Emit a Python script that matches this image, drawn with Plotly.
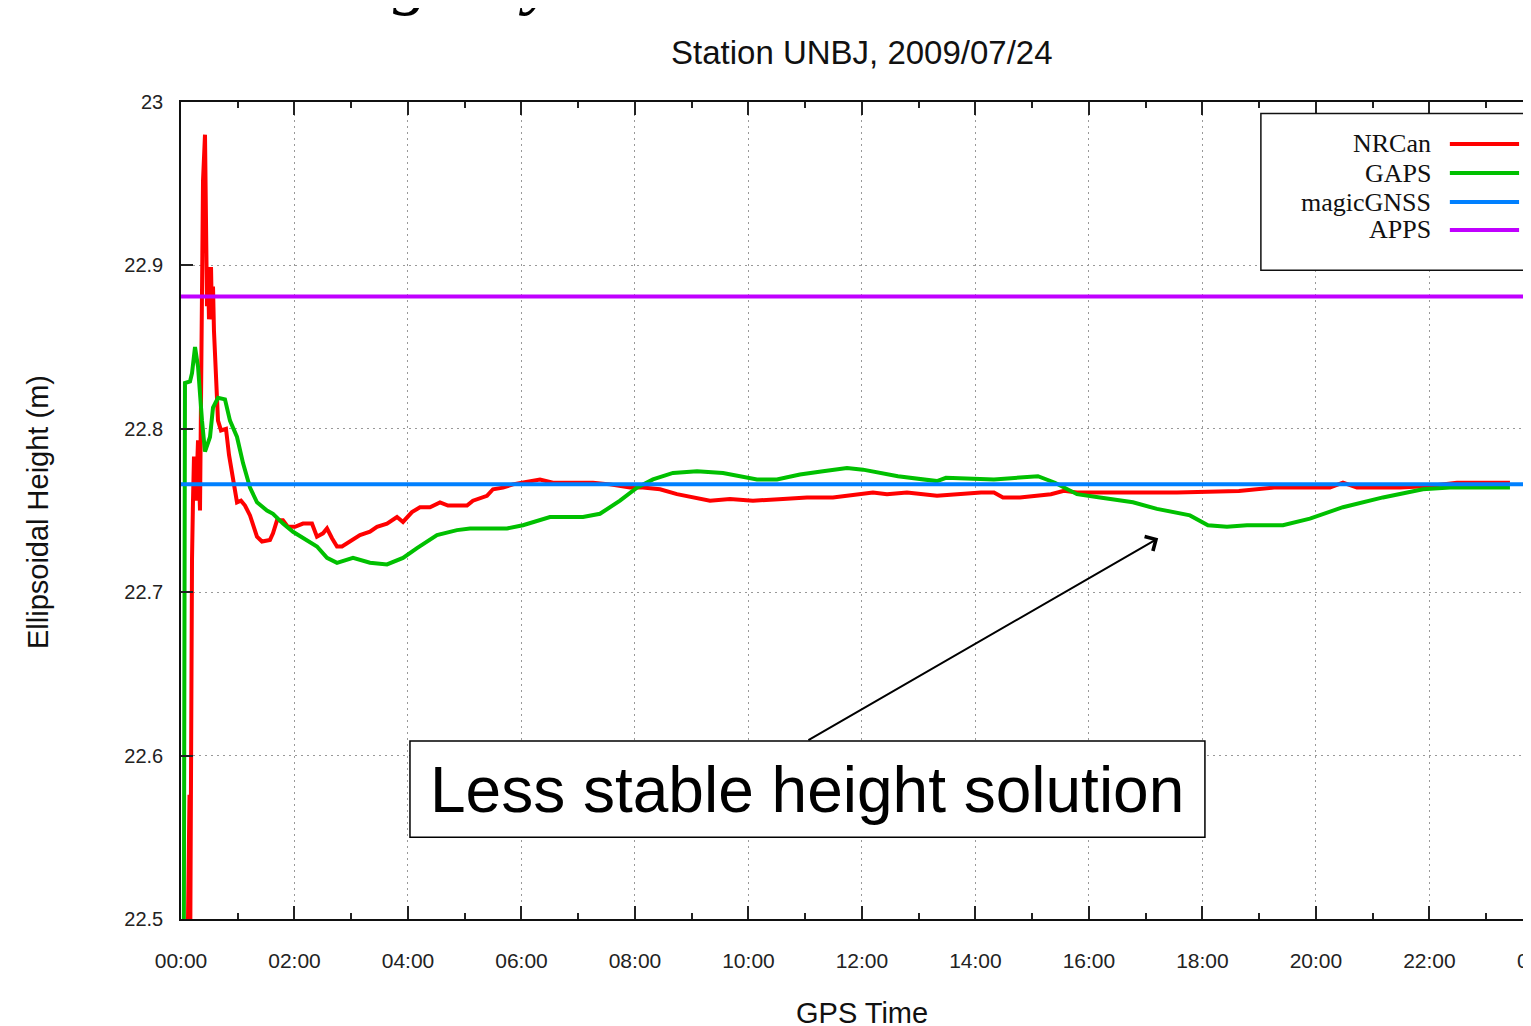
import plotly.graph_objects as go

# ---------------- data (hours of GPS time, ellipsoidal height in m) ----------------
nrcan_t = [0.12, 0.15, 0.165, 0.18, 0.194, 0.211, 0.229, 0.264, 0.300, 0.335, 0.352, 0.370, 0.388,
           0.423, 0.441, 0.458, 0.476, 0.493, 0.511, 0.529, 0.546, 0.564, 0.581, 0.617, 0.652,
           0.705, 0.793, 0.846, 0.916, 0.987, 1.057, 1.128, 1.216, 1.339, 1.427, 1.568, 1.621,
           1.692, 1.797, 1.885, 2.009, 2.150, 2.308, 2.396, 2.502, 2.573, 2.661, 2.749, 2.837,
           2.978, 3.154, 3.330, 3.454, 3.630, 3.806, 3.912, 4.070, 4.211, 4.388, 4.564, 4.705,
           5.040, 5.145, 5.392, 5.498, 5.674, 5.850, 6.009, 6.150, 6.326, 6.555, 6.802, 7.031,
           7.260, 7.559, 7.912, 8.141, 8.441, 8.740, 9.022, 9.322, 9.674, 10.079, 10.608, 11.031,
           11.489, 12.194, 12.441, 12.793, 13.322, 13.639, 14.097, 14.326, 14.485, 14.784, 15.013,
           15.330, 15.559, 15.789, 16.194, 16.793, 17.551, 18.643, 19.260, 19.718, 20.247, 20.476,
           20.722, 21.480, 22.000, 22.485, 23.242, 23.419]
nrcan_h = [22.49, 22.576, 22.50, 22.683, 22.720, 22.755, 22.783, 22.756, 22.793, 22.750, 22.830,
           22.899, 22.952, 22.980, 22.899, 22.875, 22.899, 22.867, 22.879, 22.899, 22.867, 22.887,
           22.860, 22.836, 22.805, 22.799, 22.800, 22.784, 22.769, 22.755, 22.756, 22.753, 22.747,
           22.734, 22.731, 22.732, 22.736, 22.744, 22.744, 22.740, 22.740, 22.742, 22.742, 22.734,
           22.736, 22.739, 22.733, 22.728, 22.728, 22.731, 22.735, 22.737, 22.740, 22.742, 22.746,
           22.743, 22.749, 22.752, 22.752, 22.755, 22.753, 22.753, 22.756, 22.759, 22.763, 22.764,
           22.766, 22.767, 22.768, 22.769, 22.767, 22.767, 22.767, 22.767, 22.766, 22.764, 22.764,
           22.763, 22.760, 22.758, 22.756, 22.757, 22.756, 22.757, 22.758, 22.758, 22.761, 22.760,
           22.761, 22.759, 22.760, 22.761, 22.761, 22.758, 22.758, 22.759, 22.760, 22.762, 22.761,
           22.761, 22.761, 22.761, 22.762, 22.764, 22.764, 22.764, 22.767, 22.764, 22.764, 22.765,
           22.767, 22.767, 22.767]

gaps_t = [0.05, 0.070, 0.159, 0.194, 0.247, 0.300, 0.370, 0.423, 0.511, 0.564, 0.652, 0.775,
          0.863, 0.987, 1.093, 1.216, 1.339, 1.515, 1.621, 1.797, 1.974, 2.150, 2.396, 2.573,
          2.749, 3.031, 3.330, 3.630, 3.912, 4.159, 4.511, 4.863, 5.093, 5.744, 6.026, 6.502,
          7.084, 7.383, 7.736, 8.035, 8.317, 8.670, 9.093, 9.551, 9.727, 10.150, 10.502, 10.907,
          11.313, 11.736, 12.018, 12.317, 12.634, 13.322, 13.480, 14.326, 14.714, 15.101, 15.401,
          15.789, 16.194, 16.775, 17.198, 17.780, 18.097, 18.432, 18.784, 19.419, 19.894, 20.476,
          21.181, 21.885, 22.361, 23.242, 23.419]
gaps_h = [22.49, 22.828, 22.829, 22.834, 22.850, 22.838, 22.805, 22.786, 22.795, 22.813, 22.819,
          22.818, 22.805, 22.795, 22.779, 22.764, 22.755, 22.750, 22.748, 22.742, 22.737, 22.733,
          22.728, 22.721, 22.718, 22.721, 22.718, 22.717, 22.721, 22.727, 22.735, 22.738, 22.739,
          22.739, 22.741, 22.746, 22.746, 22.748, 22.756, 22.764, 22.769, 22.773, 22.774, 22.773,
          22.772, 22.769, 22.769, 22.772, 22.774, 22.776, 22.775, 22.773, 22.771, 22.768, 22.770,
          22.769, 22.770, 22.771, 22.767, 22.760, 22.758, 22.755, 22.751, 22.747, 22.741, 22.740,
          22.741, 22.741, 22.745, 22.752, 22.758, 22.763, 22.764, 22.764, 22.764]

magic_t = [0.0, 24.0]
magic_h = [22.766, 22.766]
apps_t = [0.0, 24.0]
apps_h = [22.881, 22.881]

series_names = ["NRCan", "GAPS", "magicGNSS", "APPS"]
series_colors = ["#ff0000", "#00c000", "#0080ff", "#c000ff"]

tick_hours = list(range(0, 24, 2))
tick_text = ["%02d:00" % h for h in tick_hours]
y_ticks = [22.5, 22.6, 22.7, 22.8, 22.9, 23.0]
y_text = ["22.5", "22.6", "22.7", "22.8", "22.9", "23"]

SANS = "Liberation Sans, Arial, sans-serif"
SERIF = "Liberation Serif, Times New Roman, serif"

fig = go.Figure()
for t, h, c, w in [(nrcan_t, nrcan_h, series_colors[0], 4),
                   (gaps_t, gaps_h, series_colors[1], 4),
                   (magic_t, magic_h, series_colors[2], 4),
                   (apps_t, apps_h, series_colors[3], 4)]:
    fig.add_trace(go.Scatter(x=t, y=h, mode="lines", line=dict(color=c, width=w, shape="linear"),
                             showlegend=False, hoverinfo="skip"))

# the page body adds an 8px margin; the figure is sized/offset to compensate
fig.update_layout(
    width=1523, height=1018,
    margin=dict(l=173, r=0, t=94, b=107),
    paper_bgcolor="white", plot_bgcolor="white",
    showlegend=False,
    font=dict(family=SANS, color="#222"),
)
fig.update_xaxes(
    range=[0, 23.79], tickvals=tick_hours, ticktext=tick_text,
    ticks="inside", ticklen=13, tickwidth=1.5, tickcolor="#222",
    minor=dict(dtick=1, tick0=0, ticks="inside", ticklen=6, tickwidth=1.5, tickcolor="#222", showgrid=False),
    showline=True, linecolor="#111", linewidth=1.5, mirror="ticks",
    showgrid=True, gridcolor="#999999", griddash="2px,4px", gridwidth=1,
    tickfont=dict(size=21, family=SANS, color="#222"), ticklabelstandoff=22,
    zeroline=False,
)
fig.update_yaxes(
    range=[22.5, 23.0], tickvals=y_ticks, ticktext=y_text,
    ticks="inside", ticklen=12, tickwidth=1.5, tickcolor="#222",
    showline=True, linecolor="#111", linewidth=1.5, mirror=False,
    showgrid=True, gridcolor="#999999", griddash="2px,4px", gridwidth=1,
    tickfont=dict(size=20, family=SANS, color="#222"), ticklabelstandoff=12,
    zeroline=False,
)

ann = []
# clipped 24:00 tick label at the right edge
ann.append(dict(x=1.0089, y=0, xref="paper", yref="paper", text="00:00", showarrow=False,
                yshift=-41, font=dict(size=21, family=SANS, color="#222"), xanchor="center", yanchor="middle"))
# titles
ann.append(dict(x=12, y=1.06, xref="x", yref="paper", text="Station UNBJ, 2009/07/24", showarrow=False,
                font=dict(size=33, family=SANS, color="#111"), xanchor="center", yanchor="middle"))
ann.append(dict(x=12, y=-0.1145, xref="x", yref="paper", text="GPS Time", showarrow=False,
                font=dict(size=29, family=SANS, color="#111"), xanchor="center", yanchor="middle"))
ann.append(dict(x=-0.106, y=0.498, xref="paper", yref="paper", text="Ellipsoidal Height (m)",
                textangle=-90, showarrow=False,
                font=dict(size=29, family=SANS, color="#111"), xanchor="center", yanchor="middle"))
# descenders of the slide heading cut off at the top
for ch, xp in [("g", 0.170), ("y", 0.264)]:
    ann.append(dict(x=xp, y=1.102, xref="paper", yref="paper", text=ch, showarrow=False,
                    font=dict(size=72, family=SERIF, color="#000", style="italic"),
                    xanchor="center", yanchor="bottom"))

# callout
ann.append(dict(x=11.03, y=22.579, xref="x", yref="y", text="Less stable height solution",
                showarrow=False, font=dict(size=64, family=SANS, color="#000"),
                xanchor="center", yanchor="middle"))
ann.append(dict(x=17.22, y=22.733, xref="x", yref="y", ax=11.03, ay=22.609, axref="x", ayref="y",
                text="", showarrow=True, arrowhead=4, arrowsize=1.6, arrowwidth=2, arrowcolor="#000"))

# manual legend (text left, line sample right)
legend_rows = [22.9743, 22.9565, 22.9388, 22.9217]
for name, col, yy in zip(series_names, series_colors, legend_rows):
    ann.append(dict(x=22.06, y=yy, xref="x", yref="y", text=name, showarrow=False,
                    font=dict(size=26, family=SERIF, color="#111"), xanchor="right", yanchor="middle"))

shapes = []
shapes.append(dict(type="rect", xref="x", yref="y", x0=4.035, x1=18.044, y0=22.550, y1=22.609,
                   line=dict(color="#000", width=1.5), fillcolor="white", layer="above"))
shapes.append(dict(type="rect", xref="x", yref="y", x0=19.03, x1=24.5, y0=22.897, y1=22.993,
                   line=dict(color="#111", width=1.5), fillcolor="white", layer="above"))
for col, yy in zip(series_colors, legend_rows):
    shapes.append(dict(type="line", xref="x", yref="y", x0=22.36, x1=23.58, y0=yy, y1=yy,
                       line=dict(color=col, width=4), layer="above"))

fig.update_layout(annotations=ann, shapes=shapes)
fig.write_html("out.html")
